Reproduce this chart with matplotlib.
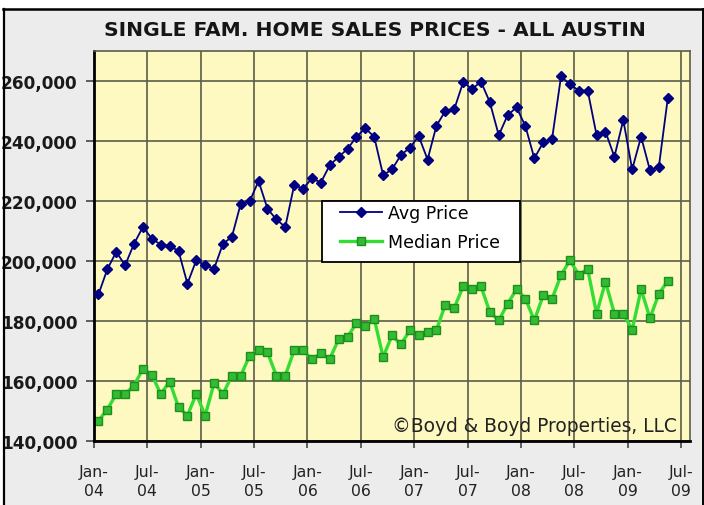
import matplotlib
matplotlib.use('Agg')
import matplotlib.pyplot as plt
from matplotlib.patches import Rectangle
from matplotlib.lines import Line2D
from matplotlib.ticker import FuncFormatter
import numpy as np

title = "SINGLE FAM. HOME SALES PRICES - ALL AUSTIN"
watermark = "\u00a9Boyd & Boyd Properties, LLC"
series_names = ["Avg Price", "Median Price"]
tick_labels = ["Jan-\n04", "Jul-\n04", "Jan-\n05", "Jul-\n05", "Jan-\n06", "Jul-\n06",
               "Jan-\n07", "Jul-\n07", "Jan-\n08", "Jul-\n08", "Jan-\n09", "Jul-\n09"]
y_ticks = [140000, 160000, 180000, 200000, 220000, 240000, 260000]

# monthly values, Jan-2004 .. May-2009
avg_price = [188800, 197200, 203000, 198500, 205700, 211300, 207400, 205400, 205000, 203300,
             192400, 200200, 198500, 197400, 205700, 208000, 219100, 219900, 226600, 217400,
             213800, 211300, 225200, 224100, 227500, 226100, 231900, 234700, 237300, 241400,
             244200, 241400, 228600, 230500, 235300, 237700, 241600, 233800, 245100, 250000,
             250600, 259600, 257300, 259800, 252900, 241900, 248600, 251200, 244900, 234200,
             239500, 240800, 261500, 258900, 256800, 256800, 241900, 243100, 234700, 247000,
             230500, 241400, 230200, 231400, 254200]
median_price = [146700, 150400, 155600, 155600, 158400, 164000, 162000, 155600, 159700, 151200,
                148400, 155600, 148400, 159200, 155600, 161700, 161700, 168400, 170300, 169500,
                161700, 161700, 170100, 170100, 167100, 169200, 167300, 173800, 174600, 179200,
                178200, 180700, 167900, 175100, 172100, 176800, 175100, 176200, 177000, 185400,
                184300, 191500, 190700, 191500, 182900, 180100, 185700, 190500, 187400, 180100,
                188500, 187400, 195200, 200200, 195400, 197200, 182400, 193000, 182400, 182400,
                177000, 190500, 180900, 189000, 193300]

W, H = 704, 506
fig = plt.figure(figsize=(W / 100, H / 100), dpi=100)
fig.patch.set_facecolor('white')

# outer panel and frame
fig.add_artist(Rectangle((3 / W, 0), 700 / W, (H - 10) / H, transform=fig.transFigure,
                         facecolor='#ececec', edgecolor='none', zorder=0))
fig.add_artist(Line2D([3.5 / W, 3.5 / W], [0, 1 - 9.5 / H], color='black', lw=1.6,
                      transform=fig.transFigure))
fig.add_artist(Line2D([3 / W, 1], [1 - 10 / H, 1 - 10 / H], color='black', lw=1.8,
                      transform=fig.transFigure))
fig.add_artist(Line2D([702.5 / W, 702.5 / W], [0, 1 - 9.5 / H], color='black', lw=1.4,
                      transform=fig.transFigure))

fig.text(375 / W, 1 - 30 / H, title, ha='center', va='center', fontsize=14.6,
         fontweight='bold', color='#151515')

ax = fig.add_axes([94 / W, 64.3 / H, 596 / W, 389.7 / H])
ax.set_facecolor('#fdf9c0')

x = np.arange(len(avg_price)) + 0.5
ax.plot(x, avg_price, color='#000080', lw=1.3, marker='D', ms=4.9, mfc='#000080',
        mec='#000080', label=series_names[0], zorder=3)
ax.plot(x, median_price, color='#33dd33', lw=2.4, marker='s', ms=5.4, mfc='#33bb33',
        mec='#1e8f1e', mew=1.0, label=series_names[1], zorder=2)

ax.set_xlim(0, 67)
ax.set_ylim(140000, 270000)
ax.set_xticks(np.arange(len(tick_labels)) * 6)
ax.set_xticklabels(tick_labels, fontsize=11.3, color='#222222', linespacing=1.3)
ax.set_yticks(y_ticks)
ax.yaxis.set_major_formatter(FuncFormatter(lambda v, p: f'{int(v):,}'))
for lbl in ax.get_yticklabels():
    lbl.set_fontweight('bold')
    lbl.set_fontsize(12.2)
    lbl.set_color('#1a1a1a')

ax.grid(True, color='#5c5c48', lw=1.2)
ax.set_axisbelow(True)
ax.tick_params(axis='y', direction='out', length=5.8, width=1.2, color='#444444', pad=6)
ax.tick_params(axis='x', direction='out', length=4.8, width=1.2, color='#444444', pad=12)
for s in ['left', 'bottom']:
    ax.spines[s].set_color('black')
    ax.spines[s].set_linewidth(2.0)
for s in ['top', 'right']:
    ax.spines[s].set_color('#5c5c48')
    ax.spines[s].set_linewidth(1.2)

# legend box
x0 = (321.7 - 94) / 596
x1 = (520 - 94) / 596
yt = (441.7 - 201.7) / 389.7
yb = (441.7 - 263.3) / 389.7
ax.add_patch(Rectangle((x0, yb), x1 - x0, yt - yb, transform=ax.transAxes,
                       facecolor='white', edgecolor='black', lw=1.3, zorder=4))
leg = ax.legend(loc='upper left', bbox_to_anchor=((340 - 94) / 596, (441.7 - 205) / 389.7),
                frameon=False, borderpad=0, borderaxespad=0, handlelength=2.4,
                handletextpad=0.35, labelspacing=0.65, fontsize=12.5)
leg.set_zorder(5)

ax.text((677 - 94) / 596, (441.7 - 431.7) / 389.7, watermark, transform=ax.transAxes,
        ha='right', va='baseline', fontsize=13.4, color='#222222', zorder=4)

fig.savefig('out.png', dpi=100, facecolor=fig.get_facecolor())
